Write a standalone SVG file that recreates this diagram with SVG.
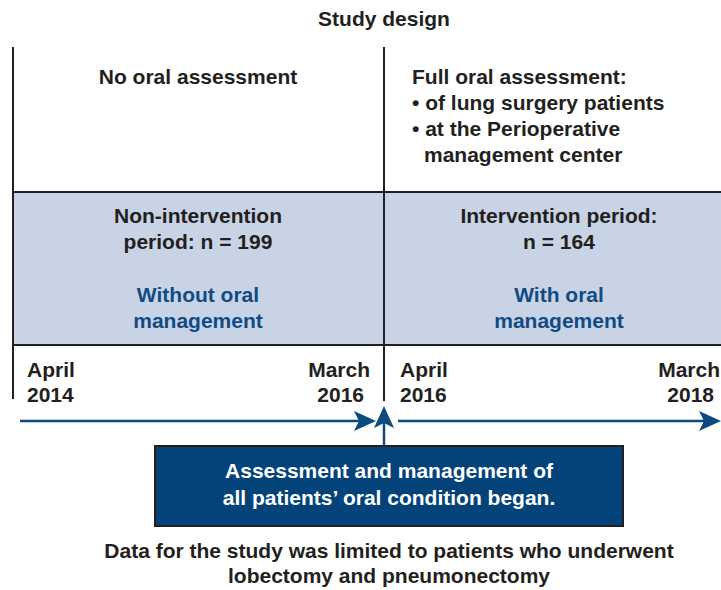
<svg xmlns="http://www.w3.org/2000/svg" width="721" height="590" viewBox="0 0 721 590">
  <defs>
    <style>
      text { font-family: "Liberation Sans", Arial, sans-serif; font-weight: bold; font-size: 21px; fill: #231f20; }
      .c { text-anchor: middle; }
      .e { text-anchor: end; }
      .blue { fill: #114b85; }
      .white { fill: #ffffff; }
      .rule { stroke: #231f20; stroke-width: 2; fill: none; }
      .flow { stroke: #0c4a80; stroke-width: 2.5; fill: none; }
      .head { fill: #0c4a80; }
    </style>
  </defs>

  <rect width="721" height="590" fill="#ffffff"/>

  <text class="c" x="384" y="26">Study design</text>

  <!-- period band -->
  <g id="band">
    <rect x="13" y="192" width="710" height="153" fill="#c9d3e6"/>
    <line class="rule" x1="13" y1="192" x2="721" y2="192"/>
    <line class="rule" x1="13" y1="345" x2="721" y2="345"/>
  </g>

  <!-- period dividers -->
  <g id="dividers">
    <line class="rule" x1="13" y1="47" x2="13" y2="399"/>
    <line class="rule" x1="384" y1="47" x2="384" y2="401"/>
  </g>

  <g id="pre-period">
    <text class="c" x="198" y="84">No oral assessment</text>
    <text class="c" x="198" y="223">Non-intervention</text>
    <text class="c" x="198" y="249">period: n = 199</text>
    <text class="c blue" x="198" y="302">Without oral</text>
    <text class="c blue" x="198" y="328">management</text>
    <text x="27" y="377">April</text>
    <text x="27" y="402">2014</text>
    <text class="e" x="370" y="377">March</text>
    <text class="e" x="364" y="402">2016</text>
  </g>

  <g id="post-period">
    <text x="412" y="84">Full oral assessment:</text>
    <text x="412" y="110">• of lung surgery patients</text>
    <text x="412" y="136">• at the Perioperative</text>
    <text x="424" y="162">management center</text>
    <text class="c" x="559" y="223">Intervention period:</text>
    <text class="c" x="559" y="249">n = 164</text>
    <text class="c blue" x="559" y="302">With oral</text>
    <text class="c blue" x="559" y="328">management</text>
    <text x="400" y="377">April</text>
    <text x="400" y="402">2016</text>
    <text class="e" x="720" y="377">March</text>
    <text class="e" x="714" y="402">2018</text>
  </g>

  <!-- timeline arrows -->
  <g id="connectors">
    <line class="flow" x1="20" y1="421" x2="366" y2="421"/>
    <path class="head" d="M376,421 L354,411 L359,421 L354,431 Z"/>
    <line class="flow" x1="398" y1="421" x2="711" y2="421"/>
    <path class="head" d="M721,421 L699,411 L704,421 L699,431 Z"/>
    <line class="flow" x1="384" y1="446" x2="384" y2="418"/>
    <path class="head" d="M384,406 L374,428 L384,423 L394,428 Z"/>
  </g>

  <g id="start-note">
    <rect x="155" y="446" width="468" height="80" fill="#03437a" stroke="#231f20" stroke-width="2"/>
    <text class="c white" x="389" y="478">Assessment and management of</text>
    <text class="c white" x="389" y="505">all patients’ oral condition began.</text>
  </g>

  <g id="footnote">
    <text class="c" x="389" y="558">Data for the study was limited to patients who underwent</text>
    <text class="c" x="389" y="583">lobectomy and pneumonectomy</text>
  </g>
</svg>
